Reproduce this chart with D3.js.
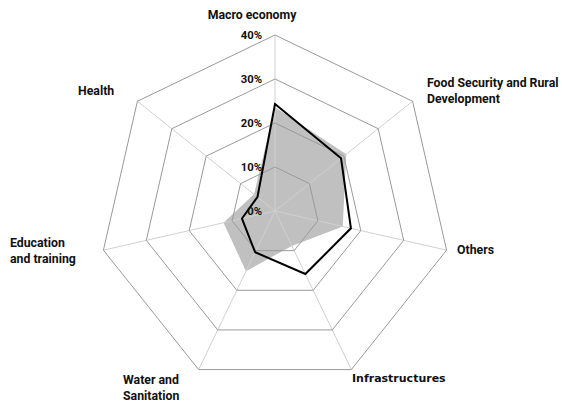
<!DOCTYPE html>
<html>
<head>
<meta charset="utf-8">
<script src="https://cdn.jsdelivr.net/npm/d3@7"></script>
<style>
  html, body { margin: 0; padding: 0; background: #fff; }
  svg { display: block; }
  .lbl { font-family: Roboto, sans-serif; font-weight: 700; font-size: 12.3px; fill: #111; }
  .tick { font-family: Roboto, sans-serif; font-weight: 700; font-size: 11.3px; fill: #111; }
  .lbl-alt { font-family: "DejaVu Sans", sans-serif; font-weight: 700; font-size: 11px; fill: #111; }
</style>
</head>
<body>
<svg id="chart" width="562" height="407"></svg>
<script>
// Sectors, clockwise from the top
const categories = [
  "Macro economy",
  "Food Security and Rural Development",
  "Others",
  "Infrastructures",
  "Water and Sanitation",
  "Education and training",
  "Health"
];
// Share of each sector (%)
const areaSeries = [23.6, 20.7, 15.8, 8.8, 15.2, 12.0, 6.1];   // grey filled
const lineSeries = [24.3, 19.2, 17.7, 15.9, 10.4, 7.7, 5.1];   // black outline
const tickValues = [0, 10, 20, 30, 40];
const tickLabels = ["0%", "10%", "20%", "30%", "40%"];

const svg = d3.select("#chart");
const cx = 275, cy = 211, R = 176;
const n = categories.length;

const r = d3.scaleLinear().domain([0, 40]).range([0, R]);
const angle = d3.scaleLinear().domain([0, n]).range([0, 2 * Math.PI]);

const radial = d3.lineRadial()
  .angle((d, i) => angle(i))
  .radius(d => r(d))
  .curve(d3.curveLinearClosed);

const g = svg.append("g").attr("transform", `translate(${cx},${cy})`);

// grey area series
g.append("path")
  .datum(areaSeries)
  .attr("d", radial)
  .attr("fill", "#c0c0c0")
  .attr("stroke", "none");

// spokes
g.selectAll("line.spoke")
  .data(categories)
  .join("line")
  .attr("class", "spoke")
  .attr("x1", 0).attr("y1", 0)
  .attr("x2", (d, i) => r(40) * Math.sin(angle(i)))
  .attr("y2", (d, i) => -r(40) * Math.cos(angle(i)))
  .attr("stroke", "#d0d0d0")
  .attr("stroke-width", 1);

// rings
g.selectAll("path.ring")
  .data(tickValues.filter(v => v > 0))
  .join("path")
  .attr("class", "ring")
  .attr("d", v => radial(categories.map(() => v)))
  .attr("fill", "none")
  .attr("stroke", "#9a9a9a")
  .attr("stroke-width", 1);

// black line series
g.append("path")
  .datum(lineSeries)
  .attr("d", radial)
  .attr("fill", "none")
  .attr("stroke", "#000")
  .attr("stroke-width", 2)
  .attr("stroke-linejoin", "miter");

// radial tick labels
g.selectAll("text.tick")
  .data(tickValues)
  .join("text")
  .attr("class", "tick")
  .attr("x", -13)
  .attr("y", v => -r(v))
  .attr("dy", "0.35em")
  .attr("text-anchor", "end")
  .text((v, i) => tickLabels[i]);

// category labels
const catLabels = [
  { lines: ["Macro economy"], x: 252, y: 15, anchor: "middle" },
  { lines: ["Food Security and Rural", "Development"], x: 427, y: 83, anchor: "start" },
  { lines: ["Others"], x: 457, y: 250, anchor: "start" },
  { lines: ["Infrastructures"], x: 352, y: 378, anchor: "start", alt: true },
  { lines: ["Water and", "Sanitation"], x: 123, y: 380, anchor: "start" },
  { lines: ["Education", "and training"], x: 10, y: 243, anchor: "start" },
  { lines: ["Health"], x: 78, y: 91, anchor: "start" }
];

svg.selectAll("text.cat")
  .data(catLabels)
  .join("text")
  .attr("class", d => d.alt ? "lbl-alt" : "lbl")
  .attr("text-anchor", d => d.anchor)
  .each(function(d) {
    const t = d3.select(this);
    d.lines.forEach((ln, k) => {
      t.append("tspan")
        .attr("x", d.x)
        .attr("y", d.y + k * 15.5)
        .attr("dy", "0.35em")
        .text(ln);
    });
  });
</script>
</body>
</html>
